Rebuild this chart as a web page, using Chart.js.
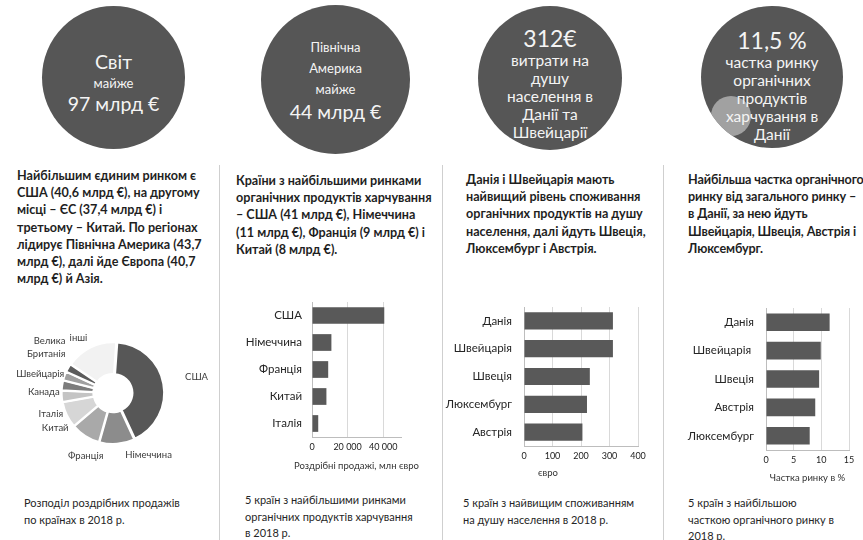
<!DOCTYPE html>
<html lang="uk">
<head>
<meta charset="utf-8">
<title>Органічний ринок 2018</title>
<script src="https://cdn.jsdelivr.net/npm/chart.js@4.4.1/dist/chart.umd.min.js"></script>
<style>
  html, body { margin: 0; padding: 0; background: #fff; }
  body { position: relative; width: 863px; height: 540px; overflow: hidden; font-family: Lato, "Open Sans", sans-serif; color: #1a1a1a; }

  .circle { position: absolute; border-radius: 50%; background: #565656; color: #f4f4f4; text-align: center; overflow: hidden; }
  .circle .txt { position: absolute; left: 0; right: 0; z-index: 2; }
  .circle .big { font-size: 19.5px; line-height: 24px; }
  .circle .sm  { font-size: 13px; line-height: 18px; }
  .circle .md  { font-size: 15.5px; line-height: 18px; }
  .spot { position: absolute; border-radius: 50%; background: rgba(180,180,180,0.8); z-index: 1; }

  .para { position: absolute; font-size: 12.6px; line-height: 17.2px; font-weight: 700; white-space: nowrap; color: #1f1f1f; }
  .caption { position: absolute; font-size: 11px; line-height: 16.5px; white-space: nowrap; color: #262626; }
  .rule { position: absolute; top: 165px; bottom: 0; width: 1px; background: #cfcfcf; }
  canvas { position: absolute; }
</style>
</head>
<body>

<!-- headline circles -->
<div class="circle" style="left:42px; top:6px; width:143px; height:143px;">
  <div class="txt" style="top:44px;">
    <div class="big">Світ</div>
    <div class="sm">майже</div>
    <div class="big">97 млрд €</div>
  </div>
</div>
<div class="circle" style="left:261px; top:5px; width:149px; height:149px;">
  <div class="txt" style="top:32px;">
    <div class="sm" style="line-height:21px;">Північна</div>
    <div class="sm" style="line-height:21px;">Америка</div>
    <div class="sm" style="line-height:21px;">майже</div>
    <div class="big">44 млрд €</div>
  </div>
</div>
<div class="circle" style="left:478px; top:6px; width:144px; height:144px;">
  <div class="txt" style="top:19px;">
    <div class="big" style="font-size:23px; line-height:26px;">312€</div>
    <div class="md">витрати на</div>
    <div class="md">душу</div>
    <div class="md">населення в</div>
    <div class="md">Данії та</div>
    <div class="md">Швейцарії</div>
  </div>
</div>
<div class="circle" style="left:701px; top:6px; width:142px; height:142px;">
  <div class="spot" style="left:10px; top:90px; width:40px; height:40px;"></div>
  <div class="txt" style="top:21px;">
    <div class="big" style="font-size:23px; line-height:26px;">11,5 %</div>
    <div class="md">частка ринку</div>
    <div class="md">органічних</div>
    <div class="md">продуктів</div>
    <div class="md">харчування в</div>
    <div class="md">Данії</div>
  </div>
</div>

<!-- column text -->
<div class="para" style="left:17px; top:167px;">Найбільшим єдиним ринком є<br>США (40,6 млрд €), на другому<br>місці – ЄС (37,4 млрд €) і<br>третьому – Китай. По регіонах<br>лідирує Північна Америка (43,7<br>млрд €), далі йде Європа (40,7<br>млрд €) й Азія.</div>
<div class="para" style="left:236px; top:172px;">Країни з найбільшими ринками<br>органічних продуктів харчування<br>– США (41 млрд €), Німеччина<br>(11 млрд €), Франція (9 млрд €) і<br>Китай (8 млрд €).</div>
<div class="para" style="left:466px; top:171px;">Данія і Швейцарія мають<br>найвищий рівень споживання<br>органічних продуктів на душу<br>населення, далі йдуть Швеція,<br>Люксембург і Австрія.</div>
<div class="para" style="left:688px; top:171px; letter-spacing:-0.12px;">Найбільша частка органічного<br>ринку від загального ринку –<br>в Данії, за нею йдуть<br>Швейцарія, Швеція, Австрія і<br>Люксембург.</div>

<div class="rule" style="left:219px;"></div>
<div class="rule" style="left:442px;"></div>
<div class="rule" style="left:663px;"></div>

<canvas id="share" width="218" height="145" style="left:0; top:325px;"></canvas>
<canvas id="markets" width="205" height="180" style="left:229px; top:295px;"></canvas>
<canvas id="percap" width="212" height="180" style="left:443px; top:300px;"></canvas>
<canvas id="marketshare" width="195" height="186" style="left:668px; top:300px;"></canvas>

<div class="caption" style="left:24px; top:495px;">Розподіл роздрібних продажів<br>по країнах в 2018 р.</div>
<div class="caption" style="left:245px; top:492px;">5 країн з найбільшими ринками<br>органічних продуктів харчування<br>в 2018 р.</div>
<div class="caption" style="left:463px; top:495px;">5 країн з найвищим споживанням<br>на душу населення в 2018 р.</div>
<div class="caption" style="left:688px; top:495px;">5 країн з найбільшою<br>часткою органічного ринку в<br>2018 р.</div>

<script>
/*************************  data  *****************************/
// retail sales by country, bn €
var shareLabels = ['США', 'Німеччина', 'Франція', 'Китай', 'Італія', 'Канада', 'Швейцарія', ['Велика', 'Британія'], 'інші'];
var shareValues = [40.6, 10.9, 9.1, 8.1, 3.5, 3.1, 2.7, 2.6, 16.1];

// biggest markets, mln €
var marketLabels = ['США', 'Німеччина', 'Франція', 'Китай', 'Італія'];
var marketValues = [40600, 10900, 9100, 8100, 3500];
var marketTicks = [0, 20000, 40000];

// per capita consumption, €
var percapLabels = ['Данія', 'Швейцарія', 'Швеція', 'Люксембург', 'Австрія'];
var percapValues = [312, 312, 231, 221, 205];
var percapTicks = [0, 100, 200, 300, 400];

// organic share of total market, %
var shareMktLabels = ['Данія', 'Швейцарія ', 'Швеція', 'Австрія', 'Люксембург'];
var shareMktValues = [11.5, 9.9, 9.6, 8.9, 7.9];
var shareMktTicks = [0, 5, 10, 15];


/*************************  defaults  *****************************/
var FONT = 'Lato, "Open Sans", sans-serif';
Chart.defaults.font.family = FONT;
Chart.defaults.color = '#333';
Chart.defaults.animation = false;
Chart.defaults.responsive = false;
Chart.defaults.plugins.legend.display = false;
Chart.defaults.plugins.tooltip.enabled = false;

var BAR = '#595959';

function spaced(v) {
	return String(v).replace(/\B(?=(\d{3})+(?!\d))/g, ' ');
}


/*************************  doughnut labels  *****************************/
// draws each label next to its slice, nudged by the per-slice placement
var sliceLabels = {
	id: 'sliceLabels',
	afterDatasetsDraw: function(chart, args, opts) {
		var ctx = chart.ctx;
		var meta = chart.getDatasetMeta(0);
		ctx.save();
		ctx.font = opts.size + 'px ' + FONT;
		ctx.fillStyle = opts.color;
		ctx.textBaseline = 'middle';
		meta.data.forEach(function(arc, i) {
			var p = arc.getProps(['x', 'y', 'startAngle', 'endAngle', 'outerRadius'], true);
			var mid = (p.startAngle + p.endAngle) / 2;
			var r = p.outerRadius + opts.gap;
			var place = opts.place[i];
			var x = p.x + Math.cos(mid) * r + place.dx;
			var y = p.y + Math.sin(mid) * r + place.dy;
			var lines = [].concat(chart.data.labels[i]);
			ctx.textAlign = place.align;
			lines.forEach(function(line, k) {
				ctx.fillText(line, x, y + (k - (lines.length - 1) / 2) * opts.lineHeight);
			});
		});
		ctx.restore();
	}
};

new Chart(document.getElementById('share'), {
	type: 'doughnut',
	plugins: [sliceLabels],
	data: {
		labels: shareLabels,
		datasets: [{
			data: shareValues,
			backgroundColor: ['#575757', '#8c8c8c', '#a9a9a9', '#d6d6d6', '#c4c4c4', '#7c7c7c', '#a0a0a0', '#5c5c5c', '#f2f2f2'],
			borderColor: '#fff',
			borderWidth: 2,
			offset: 3
		}]
	},
	options: {
		rotation: 4,
		radius: 50,
		cutout: 24,
		layout: { padding: { left: 8, bottom: 9 } },
		plugins: {
			sliceLabels: {
				size: 9.5,
				color: '#3a3a3a',
				gap: 8,
				lineHeight: 13,
				place: [
					{ align: 'left',   dx: 15, dy: -6 },
					{ align: 'center', dx: 31, dy: 4 },
					{ align: 'center', dx: 4,  dy: 14 },
					{ align: 'right',  dx: 8,  dy: 10 },
					{ align: 'right',  dx: 8,  dy: 17 },
					{ align: 'right',  dx: 4,  dy: 8 },
					{ align: 'right',  dx: 6,  dy: 0 },
					{ align: 'right',  dx: 3,  dy: -17 },
					{ align: 'left',   dx: -18, dy: -3 }
				]
			}
		}
	}
});


/*************************  horizontal bars  *****************************/
// x axis caption, free to run wider than the plot
var axisCaption = {
	id: 'axisCaption',
	afterDraw: function(chart, args, opts) {
		var x = chart.scales.x;
		var ctx = chart.ctx;
		ctx.save();
		ctx.font = opts.size + 'px ' + FONT;
		ctx.fillStyle = '#333';
		ctx.textAlign = 'center';
		ctx.textBaseline = 'middle';
		ctx.fillText(opts.text, (x.left + x.right) / 2 + (opts.dx || 0), x.bottom - opts.lift);
		ctx.restore();
	}
};

function hbar(id, labels, values, tickValues, cfg) {
	return new Chart(document.getElementById(id), {
		type: 'bar',
		plugins: [axisCaption],
		data: {
			labels: labels,
			datasets: [{
				data: values,
				backgroundColor: BAR,
				barPercentage: 0.62,
				categoryPercentage: 1
			}]
		},
		options: {
			indexAxis: 'y',
			layout: { padding: cfg.padding },
			plugins: {
				axisCaption: { text: cfg.title, size: cfg.titleSize, lift: cfg.lift, dx: cfg.titleDx }
			},
			scales: {
				x: {
					min: 0,
					max: cfg.max,
					afterBuildTicks: function(s) {
						s.ticks = tickValues.map(function(v) { return { value: v }; });
					},
					ticks: { autoSkip: false, maxRotation: 0, padding: 5, font: { size: 9 }, color: '#222', callback: spaced },
					grid: { color: '#d9d9d9', drawTicks: false },
					border: { color: '#bdbdbd' },
					afterFit: function(s) { s.height = cfg.xh; }
				},
				y: {
					grid: { display: false, drawTicks: false },
					border: { color: '#bdbdbd' },
					ticks: { font: { size: 11.5 }, color: '#262626', padding: cfg.labelPad },
					// fixed label column, and no extra room above/below the bars
					afterFit: function(s) {
						s.width = cfg.yw;
						s.paddingTop = 0;
						s.paddingBottom = 0;
					}
				}
			}
		}
	});
}

hbar('markets', marketLabels, marketValues, marketTicks, {
	max: 50000, title: 'Роздрібні продажі, млн євро', titleSize: 9.5, lift: 9,
	padding: { top: 7, right: 33 }, yw: 83, xh: 38, labelPad: 10
});

hbar('percap', percapLabels, percapValues, percapTicks, {
	max: 400, title: 'євро', titleSize: 9.5, lift: 7, titleDx: -33,
	padding: { top: 7, right: 17 }, yw: 81, xh: 34, labelPad: 12
});

hbar('marketshare', shareMktLabels, shareMktValues, shareMktTicks, {
	max: 15, title: 'Частка ринку в %', titleSize: 9.5, lift: 8,
	padding: { top: 8, right: 14 }, yw: 98, xh: 36, titlePad: 2.3, labelPad: 12
});
</script>
</body>
</html>
